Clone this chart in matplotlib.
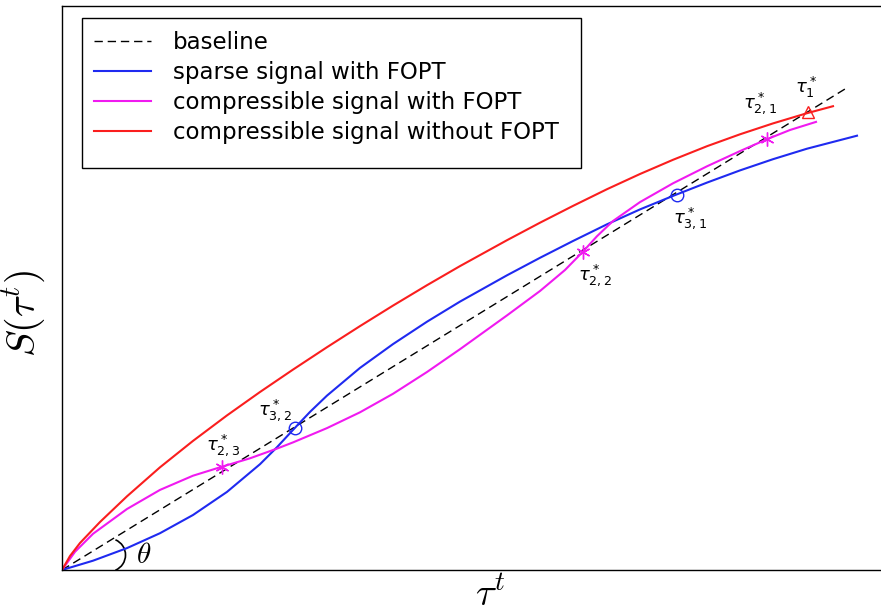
import matplotlib
matplotlib.use('Agg')
import matplotlib.pyplot as plt
from matplotlib.patches import Arc, Rectangle

plt.rcParams['mathtext.fontset'] = 'cm'

# baseline (dashed straight line)
base_x = [0.0, 7.83]
base_y = [0.0, 4.81]

# sparse signal with FOPT
blue_x = [0.0, 0.31, 0.65, 0.98, 1.31, 1.65, 1.98, 2.15, 2.31, 2.48, 2.65, 2.98, 3.31,
          3.65, 3.98, 4.45, 4.78, 5.11, 5.45, 5.78, 6.11, 6.45, 6.78, 7.11, 7.45, 7.95]
blue_y = [0.0, 0.093, 0.219, 0.368, 0.550, 0.781, 1.058, 1.228, 1.401, 1.581, 1.744,
          2.021, 2.259, 2.483, 2.684, 2.947, 3.122, 3.290, 3.457, 3.606, 3.741, 3.874,
          3.996, 4.108, 4.213, 4.343]

# compressible signal with FOPT
mag_x = [0.0, 0.13, 0.31, 0.65, 0.98, 1.31, 1.60, 1.88, 2.15, 2.31, 2.65, 2.98, 3.31,
         3.65, 3.98, 4.45, 4.78, 5.03, 5.21, 5.35, 5.51, 5.78, 6.11, 6.45, 6.78, 7.05,
         7.28, 7.54]
mag_y = [0.0, 0.182, 0.362, 0.610, 0.801, 0.943, 1.033, 1.117, 1.214, 1.276, 1.419,
         1.577, 1.762, 1.980, 2.208, 2.546, 2.790, 3.000, 3.184, 3.338, 3.490, 3.679,
         3.867, 4.037, 4.189, 4.308, 4.400, 4.481]

# compressible signal without FOPT
red_x = [0.0, 0.08, 0.18, 0.38, 0.65, 0.98, 1.31, 1.65, 1.98, 2.31, 2.65, 2.98, 3.31,
         3.65, 3.98, 4.45, 4.78, 5.11, 5.45, 5.78, 6.11, 6.45, 6.78, 7.11, 7.45, 7.71]
red_y = [0.0, 0.14, 0.27, 0.48, 0.737, 1.027, 1.291, 1.546, 1.780, 2.004, 2.228, 2.439,
         2.644, 2.848, 3.039, 3.298, 3.473, 3.641, 3.808, 3.960, 4.102, 4.238, 4.357,
         4.466, 4.568, 4.638]

# marked points
circ_x = [2.33, 6.15]
circ_y = [1.42, 3.755]
star_x = [1.60, 5.21, 7.05]
star_y = [1.033, 3.184, 4.308]
tri_x = [7.46]
tri_y = [4.585]

# point labels
lab_text = [r'$\tau^*_{2,3}$', r'$\tau^*_{3,2}$', r'$\tau^*_{2,2}$',
            r'$\tau^*_{3,1}$', r'$\tau^*_{2,1}$', r'$\tau^*_{1}$']
lab_x = [1.61, 2.13, 5.33, 6.28, 6.98, 7.44]
lab_y = [1.25, 1.60, 2.95, 3.52, 4.67, 4.83]

legend_labels = ['baseline', 'sparse signal with FOPT', 'compressible signal with FOPT',
                 'compressible signal without FOPT']

blue = '#1f2af0'
magenta = '#f01af0'
red = '#fa1e1e'

W, H = 881, 615
fig = plt.figure(figsize=(W / 100, H / 100), dpi=100)
ax = fig.add_axes([62 / W, (H - 570) / H, 828 / W, 564 / H])
ax.set_xlim(0, 8.28)
ax.set_ylim(0, 5.64)

l0, = ax.plot(base_x, base_y, color='black', lw=1.0, dashes=(6, 3.5))
l1, = ax.plot(blue_x, blue_y, color=blue, lw=1.5)
l2, = ax.plot(mag_x, mag_y, color=magenta, lw=1.5)
l3, = ax.plot(red_x, red_y, color=red, lw=1.5)

ax.plot(circ_x, circ_y, 'o', ms=9, mfc='none', mec=blue, mew=1.0)
ax.plot(star_x, star_y, ls='none', marker=(6, 2, 0), ms=10, mec=magenta, mew=1.0)
ax.plot(tri_x, tri_y, '^', ms=8, mfc='none', mec=red, mew=1.0)

for t, x, y in zip(lab_text, lab_x, lab_y):
    ax.text(x, y, t, fontsize=13, ha='center', va='center', math_fontfamily='dejavusans')

# angle mark
ax.add_patch(Arc((0.47, 0.15), 0.33, 0.33, theta1=-67, theta2=67, color='black', lw=1.2))
ax.text(0.82, 0.15, r'$\theta$', fontsize=21, ha='center', va='center')

ax.set_xticks([])
ax.set_yticks([])
ax.spines['right'].set_visible(False)
for s in ['left', 'bottom', 'top']:
    ax.spines[s].set_linewidth(1.0)

ax.set_xlabel(r'$\tau^t$', fontsize=28)
ax.xaxis.set_label_coords(0.517, -0.010)
ax.set_ylabel(r'$S(\tau^t)$', fontsize=29)
ax.yaxis.set_label_coords(-0.017, 0.455)

leg = ax.legend([l0, l1, l2, l3], legend_labels,
                loc='upper left', bbox_to_anchor=(94 / W, 1 - 31 / H),
                bbox_transform=fig.transFigure, frameon=False, fontsize=16.5,
                borderpad=0, borderaxespad=0, handlelength=2.49, handletextpad=0.96,
                labelspacing=0.31)
fig.patches.append(Rectangle((82 / W, 1 - 168 / H), 499 / W, 150 / H, transform=fig.transFigure,
                             fill=False, ec='black', lw=1.0))

fig.savefig('out.png', dpi=100)
